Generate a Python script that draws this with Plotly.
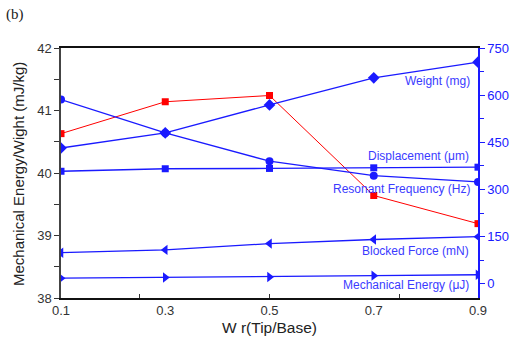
import plotly.graph_objects as go

# ---- data ----
wr = [0.1, 0.3, 0.5, 0.7, 0.9]
energy_per_weight = [40.63, 41.14, 41.24, 39.64, 39.19]   # left axis, mJ/kg
weight = [432, 480, 569, 655, 705]                        # right axis
displacement = [358, 366, 367, 369, 371]
resonant_freq = [586, 480, 390, 344, 324]
blocked_force = [99, 108, 128, 141, 150]
mech_energy = [18, 20, 22, 26, 29]

x_ticks = [0.1, 0.3, 0.5, 0.7, 0.9]
x_tick_text = ["0.1", "0.3", "0.5", "0.7", "0.9"]
y2_ticks = [0, 150, 300, 450, 600, 750]

BLUE = "#1a1aff"
TXT_BLUE = "#3b3bff"
RED = "#ff0000"
FONT = "Liberation Sans, Arial, sans-serif"

fig = go.Figure()

def blue_trace(y, symbol, size):
    fig.add_trace(go.Scatter(
        x=wr, y=y, yaxis="y2", mode="lines+markers",
        line=dict(color=BLUE, width=1.3),
        marker=dict(symbol=symbol, size=size, color=BLUE),
        showlegend=False))

blue_trace(resonant_freq, "circle", 8)
blue_trace(weight, "diamond", 9)
blue_trace(displacement, "square", 7)
blue_trace(blocked_force, "triangle-left", 9)
blue_trace(mech_energy, "triangle-right", 9)

fig.add_trace(go.Scatter(
    x=wr, y=energy_per_weight, mode="lines+markers",
    line=dict(color=RED, width=1),
    marker=dict(symbol="square", size=7, color=RED),
    showlegend=False))

L, R, T, B = 61, 35, 48, 43
W, H = 513, 341
pw, ph = W - L - R, H - T - B

def px(xp):
    return (xp - L) / pw

def py(yp):
    return (H - B - yp) / ph

labels = [
    ("Weight (mg)", 471.5, 80.7),
    ("Displacement (\u03bcm)", 470.7, 155.7),
    ("Resonant Frequency (Hz)", 472.3, 189.3),
    ("Blocked Force (mN)", 470.5, 251.0),
    ("Mechanical Energy (\u03bcJ)", 470.5, 285.0),
]
annotations = []
for text, xr, yc in labels:
    annotations.append(dict(
        text=text, xref="paper", yref="paper", x=px(xr), y=py(yc),
        xanchor="right", yanchor="middle", showarrow=False,
        font=dict(family=FONT, size=12, color=TXT_BLUE)))

annotations.append(dict(
    text="Mechanical Energy/Wight (mJ/kg)", xref="paper", yref="paper",
    x=px(18), y=py(174), xanchor="center", yanchor="middle",
    textangle=-90, showarrow=False,
    font=dict(family=FONT, size=15, color="#222222")))
annotations.append(dict(
    text="W r(Tip/Base)", xref="paper", yref="paper",
    x=px(269), y=py(327), xanchor="center", yanchor="middle",
    showarrow=False, font=dict(family=FONT, size=15.5, color="#222222")))
annotations.append(dict(
    text="(b)", xref="paper", yref="paper",
    x=px(4), y=py(14), xanchor="left", yanchor="middle",
    showarrow=False, font=dict(family="Liberation Serif, serif", size=15, color="#222222")))

fig.update_layout(
    width=W, height=H, autosize=False,
    margin=dict(l=L, r=R, t=T, b=B, pad=0, autoexpand=False),
    paper_bgcolor="white", plot_bgcolor="white",
    font=dict(family=FONT, size=13, color="#333333"),
    annotations=annotations,
    xaxis=dict(
        range=[0.1, 0.9], tickmode="array", tickvals=x_ticks, ticktext=x_tick_text,
        ticks="", showgrid=False, zeroline=False, automargin=False,
        showline=True, linecolor="#111111", linewidth=1.5, mirror=True,
        minor=dict(tickmode="array", tickvals=[0.25, 0.5, 0.75], ticks="inside",
                   ticklen=4, tickcolor="#333333", showgrid=False),
        tickfont=dict(family=FONT, size=13, color="#333333"),
    ),
    yaxis=dict(
        range=[38, 42], dtick=1, tick0=38, ticks="outside", ticklen=5,
        tickcolor="#333333", showgrid=False, zeroline=False, automargin=False,
        showline=True, linecolor="#444444", linewidth=1.5,
        minor=dict(dtick=0.5, ticks="outside", ticklen=5, tickcolor="#333333", showgrid=False),
        tickfont=dict(family=FONT, size=13, color="#333333"),
    ),
    yaxis2=dict(
        overlaying="y", side="right", anchor="x", automargin=False,
        range=[-45, 750], tickmode="array", tickvals=y2_ticks,
        ticks="outside", ticklen=5, tickcolor=BLUE, showgrid=False, zeroline=False,
        showline=True, linecolor=BLUE, linewidth=1.5,
        minor=dict(tickmode="array", tickvals=[75, 225, 375, 525, 675], ticks="outside",
                   ticklen=4, tickcolor=BLUE, showgrid=False),
        tickfont=dict(family=FONT, size=13, color=BLUE),
    ),
)

fig.write_html("out.html")
